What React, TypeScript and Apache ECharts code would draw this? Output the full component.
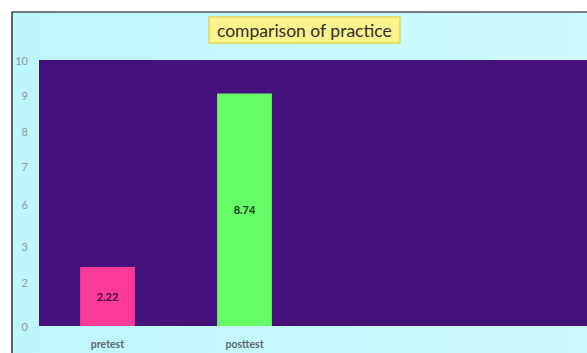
import React, { useEffect, useRef } from "react";
import * as echarts from "echarts";

// Category axis: two tests plus two empty slots to the right
const categories = ["pretest", "posttest", "", ""];
const scores = [2.22, 8.74];
const barColors = ["#fb3a97", "#66fc66"];
const barLabelColors = ["#4a0a3a", "#1c3a1c"];

// Y-axis tick labels and the axis values they sit at
const tickLabels = ["0", "2", "3", "6", "7", "8", "9", "10"];
const tickValues = [0, 1.65, 3.0, 4.55, 5.98, 7.33, 8.68, 10];

export default function App() {
  const ref = useRef<HTMLDivElement>(null);

  useEffect(() => {
    document.body.style.margin = "0";
    const chart = echarts.init(ref.current!, null, { renderer: "svg" });
    chart.setOption({
      animation: false,
      backgroundColor: "#ffffff",
      graphic: [
        {
          type: "rect",
          z: -10,
          silent: true,
          shape: { x: 12, y: 12, width: 600, height: 360 },
          style: {
            fill: new echarts.graphic.LinearGradient(0, 0, 1, 0, [
              { offset: 0, color: "#bdf6fb" },
              { offset: 1, color: "#cdfbff" },
            ]),
            stroke: "#000000",
            lineWidth: 1.2,
          },
        },
      ],
      title: {
        text: "comparison of practice",
        left: 209,
        top: 17,
        padding: [4, 8, 4, 8],
        backgroundColor: "#fdf38c",
        borderColor: "#e6d65e",
        borderWidth: 1.5,
        textStyle: {
          fontFamily: "Lato",
          fontSize: 17.5,
          fontWeight: "normal",
          color: "#2e2e2e",
        },
      },
      grid: {
        left: 39,
        top: 60,
        right: 0,
        bottom: 27,
        show: true,
        backgroundColor: "#45117d",
        borderWidth: 0,
      },
      xAxis: {
        type: "category",
        data: categories,
        axisLine: { show: false },
        axisTick: { show: false },
        axisLabel: {
          margin: 12,
          color: "#5d6a6c",
          fontFamily: "Lato",
          fontSize: 10.5,
          fontWeight: "bold",
        },
      },
      yAxis: {
        type: "value",
        min: 0,
        max: 10,
        splitLine: { show: false },
        axisLine: { show: false },
        axisTick: { show: false },
        axisLabel: {
          customValues: tickValues,
          margin: 11,
          color: "#8c9a9c",
          fontFamily: "Lato",
          fontSize: 11,
          formatter: (v: number) => {
            const i = tickValues.indexOf(v);
            return i >= 0 ? tickLabels[i] : "";
          },
        },
      },
      series: [
        {
          type: "bar",
          barWidth: "40%",
          data: scores.map((v, i) => ({
            value: v,
            itemStyle: { color: barColors[i] },
            label: { color: barLabelColors[i] },
          })),
          label: {
            show: true,
            position: "inside",
            fontFamily: "Lato",
            fontSize: 11,
            fontWeight: "bold",
          },
        },
      ],
    });
    return () => chart.dispose();
  }, []);

  return (
    <div
      ref={ref}
      style={{ position: "absolute", left: 0, top: 0, width: 587, height: 353 }}
    />
  );
}
